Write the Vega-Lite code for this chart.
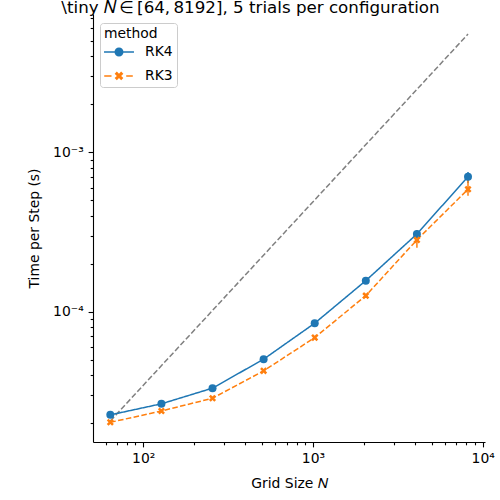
{
  "$schema": "https://vega.github.io/schema/vega-lite/v6.json",
  "width": 392,
  "height": 428,
  "autosize": {"type": "none"},
  "padding": {"left": 93, "top": 14, "right": 15, "bottom": 58},
  "background": "white",
  "config": {
    "view": {"stroke": null},
    "font": "DejaVu Sans",
    "axis": {
      "domainColor": "black", "domainWidth": 1.1, "tickColor": "black", "tickWidth": 1.1,
      "labelFont": "DejaVu Sans", "labelFontSize": 13.9, "labelColor": "black",
      "titleFont": "DejaVu Sans", "titleFontSize": 13.9, "titleFontWeight": "normal", "titleColor": "black",
      "grid": false, "labelOverlap": false, "labelFlush": false, "labelBound": false, "labelPadding": 4.9
    }
  },
  "title": {
    "text": "\\tiny 𝑁\u2009∈\u2009[64,\u20098192], 5 trials per configuration",
    "font": "DejaVu Sans", "fontSize": 16.7, "fontWeight": "normal", "color": "black",
    "anchor": "middle", "frame": "group", "baseline": "alphabetic", "offset": -19, "dx": -38.5
  },
  "datasets": {
    "timing": [
      {"N": 64, "method": "RK4", "time": 2.25e-5, "lo": 2.21e-5, "hi": 2.29e-5},
      {"N": 128, "method": "RK4", "time": 2.64e-5, "lo": 2.6e-5, "hi": 2.68e-5},
      {"N": 256, "method": "RK4", "time": 3.31e-5, "lo": 3.26e-5, "hi": 3.37e-5},
      {"N": 512, "method": "RK4", "time": 5.03e-5, "lo": 4.95e-5, "hi": 5.12e-5},
      {"N": 1024, "method": "RK4", "time": 8.46e-5, "lo": 8.3e-5, "hi": 8.62e-5},
      {"N": 2048, "method": "RK4", "time": 1.565e-4, "lo": 1.53e-4, "hi": 1.6e-4},
      {"N": 4096, "method": "RK4", "time": 3.07e-4, "lo": 2.98e-4, "hi": 3.17e-4},
      {"N": 8192, "method": "RK4", "time": 7.03e-4, "lo": 6.42e-4, "hi": 7.52e-4},
      {"N": 64, "method": "RK3", "time": 2.02e-5, "lo": 1.98e-5, "hi": 2.06e-5},
      {"N": 128, "method": "RK3", "time": 2.38e-5, "lo": 2.33e-5, "hi": 2.43e-5},
      {"N": 256, "method": "RK3", "time": 2.86e-5, "lo": 2.8e-5, "hi": 2.92e-5},
      {"N": 512, "method": "RK3", "time": 4.25e-5, "lo": 4.17e-5, "hi": 4.33e-5},
      {"N": 1024, "method": "RK3", "time": 6.87e-5, "lo": 6.75e-5, "hi": 7.0e-5},
      {"N": 2048, "method": "RK3", "time": 1.26e-4, "lo": 1.22e-4, "hi": 1.3e-4},
      {"N": 4096, "method": "RK3", "time": 2.82e-4, "lo": 2.52e-4, "hi": 3.25e-4},
      {"N": 8192, "method": "RK3", "time": 5.86e-4, "lo": 5.34e-4, "hi": 6.8e-4}
    ],
    "reference": [
      {"N": 64, "time": 2.06e-5},
      {"N": 8192, "time": 5.52e-3}
    ]
  },
  "layer": [
    {
      "data": {"name": "reference"},
      "mark": {"type": "line", "color": "#808080", "strokeWidth": 1.5, "strokeDash": [5.55, 2.4]},
      "encoding": {
        "x": {"field": "N", "type": "quantitative"},
        "y": {"field": "time", "type": "quantitative"}
      }
    },
    {
      "data": {"name": "timing"},
      "mark": {"type": "line", "strokeWidth": 1.5},
      "encoding": {
        "x": {
          "field": "N", "type": "quantitative", "title": "Grid Size 𝑁",
          "scale": {"type": "log", "domain": [50.6, 10316], "nice": false},
          "axis": {
            "values": [60, 70, 80, 90, 100, 200, 300, 400, 500, 600, 700, 800, 900, 1000, 2000, 3000, 4000, 5000, 6000, 7000, 8000, 9000, 10000],
            "labelExpr": "datum.value == 100 ? '10²' : datum.value == 1000 ? '10³' : datum.value == 10000 ? '10⁴' : ''",
            "tickSize": {"condition": {"test": "datum.value == 100 || datum.value == 1000 || datum.value == 10000", "value": 4.9}, "value": 2.8},
            "titlePadding": 11
          }
        },
        "y": {
          "field": "time", "type": "quantitative", "title": "Time per Step (s)",
          "scale": {"type": "log", "domain": [1.52e-5, 7.38e-3], "nice": false},
          "axis": {
            "values": [2e-5, 3e-5, 4e-5, 5e-5, 6e-5, 7e-5, 8e-5, 9e-5, 1e-4, 2e-4, 3e-4, 4e-4, 5e-4, 6e-4, 7e-4, 8e-4, 9e-4, 1e-3, 2e-3, 3e-3, 4e-3, 5e-3, 6e-3, 7e-3],
            "labelExpr": "datum.value == 0.0001 ? '10⁻⁴' : datum.value == 0.001 ? '10⁻³' : ''",
            "tickSize": {"condition": {"test": "datum.value == 0.0001 || datum.value == 0.001", "value": 4.9}, "value": 2.8},
            "titlePadding": 11
          }
        },
        "stroke": {"field": "method", "type": "nominal", "scale": {"domain": ["RK3", "RK4"], "range": ["#ff7f0e", "#1f77b4"]}, "legend": null},
        "strokeDash": {"field": "method", "type": "nominal", "scale": {"domain": ["RK3", "RK4"], "range": [[5.55, 2.4], [1, 0]]}, "legend": null}
      }
    },
    {
      "data": {"name": "timing"},
      "mark": {"type": "rule", "strokeWidth": 1.5},
      "encoding": {
        "x": {"field": "N", "type": "quantitative"},
        "y": {"field": "lo", "type": "quantitative"},
        "y2": {"field": "hi"},
        "stroke": {"field": "method", "type": "nominal", "legend": null}
      }
    },
    {
      "data": {"name": "timing"},
      "transform": [{"filter": "datum.method == 'RK4'"}],
      "mark": {"type": "point", "shape": "circle", "filled": true, "size": 64, "opacity": 1},
      "encoding": {
        "x": {"field": "N", "type": "quantitative"},
        "y": {"field": "time", "type": "quantitative"},
        "fill": {"field": "method", "type": "nominal", "scale": {"domain": ["RK3", "RK4"], "range": ["#ff7f0e", "#1f77b4"]}, "legend": null}
      }
    },
    {
      "data": {"name": "timing"},
      "transform": [{"filter": "datum.method == 'RK3'"}],
      "mark": {"type": "point", "shape": "M-1,-0.5L-0.5,-1L0,-0.5L0.5,-1L1,-0.5L0.5,0L1,0.5L0.5,1L0,0.5L-0.5,1L-1,0.5L-0.5,0Z", "filled": true, "size": 50, "opacity": 1},
      "encoding": {
        "x": {"field": "N", "type": "quantitative"},
        "y": {"field": "time", "type": "quantitative"},
        "fill": {"field": "method", "type": "nominal", "legend": null}
      }
    },
    {
      "data": {"name": "timing"},
      "mark": {"type": "point", "filled": true, "opacity": 0, "size": 196},
      "encoding": {
        "x": {"field": "N", "type": "quantitative"},
        "y": {"field": "time", "type": "quantitative"},
        "color": {
          "field": "method", "type": "nominal",
          "scale": {"domain": ["RK4", "RK3"], "range": ["#1f77b4", "#ff7f0e"]},
          "legend": {
            "title": "\u00a0\u00a0method", "orient": "none", "legendX": 7, "legendY": 9,
            "titleFont": "DejaVu Sans", "titleFontSize": 13.9, "titleFontWeight": "normal", "titleColor": "black", "titlePadding": 4,
            "labelFont": "DejaVu Sans", "labelFontSize": 13.9, "labelColor": "black", "labelOffset": 19,
            "symbolSize": 196, "symbolOffset": 8, "symbolOpacity": 1, "symbolStrokeWidth": 0,
            "padding": 4, "rowPadding": 10, "strokeColor": "#cccccc", "fillColor": "rgba(255,255,255,0.8)", "cornerRadius": 3
          }
        },
        "shape": {
          "field": "method", "type": "nominal",
          "scale": {
            "domain": ["RK4", "RK3"],
            "range": [
              "M-2.14,-0.107H-0.5V0.107H-2.14Z M0.5,-0.107H2.14V0.107H0.5Z M-0.643,0A0.643,0.643,0,1,1,0.643,0A0.643,0.643,0,1,1,-0.643,0Z",
              "M-2.11,-0.107H-1.07V0.107H-2.11Z M1.03,-0.107H1.97V0.107H1.03Z M-0.62,-0.31L-0.31,-0.62L0,-0.31L0.31,-0.62L0.62,-0.31L0.31,0L0.62,0.31L0.31,0.62L0,0.31L-0.31,0.62L-0.62,0.31L-0.31,0Z"
            ]
          },
          "legend": {
            "title": "\u00a0\u00a0method", "orient": "none", "legendX": 7, "legendY": 9,
            "titleFont": "DejaVu Sans", "titleFontSize": 13.9, "titleFontWeight": "normal", "titleColor": "black", "titlePadding": 4,
            "labelFont": "DejaVu Sans", "labelFontSize": 13.9, "labelColor": "black", "labelOffset": 19,
            "symbolSize": 196, "symbolOffset": 8, "symbolOpacity": 1, "symbolStrokeWidth": 0,
            "padding": 4, "rowPadding": 10, "strokeColor": "#cccccc", "fillColor": "rgba(255,255,255,0.8)", "cornerRadius": 3
          }
        }
      }
    }
  ]
}
